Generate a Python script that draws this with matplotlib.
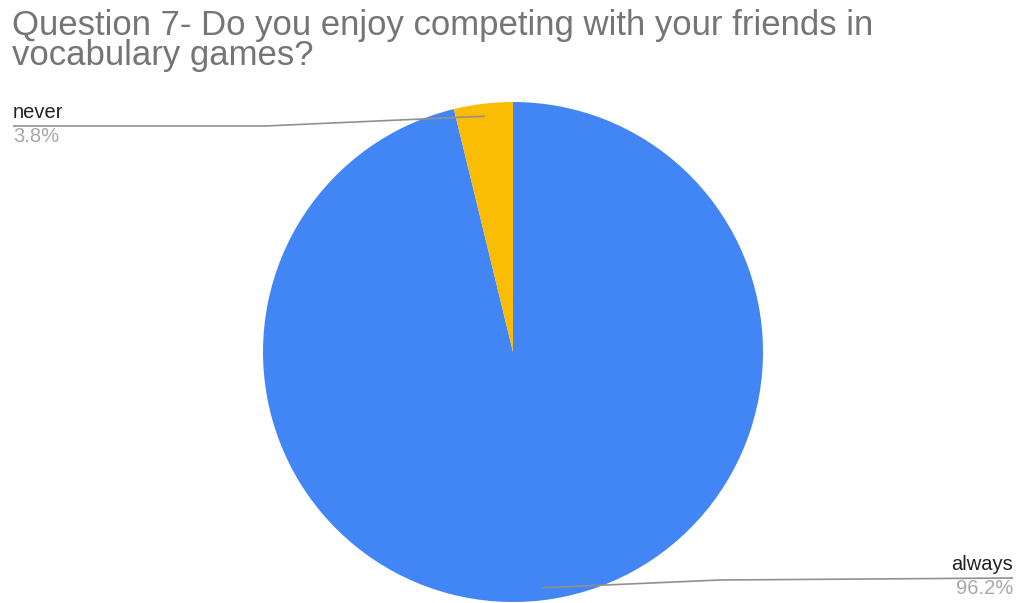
import numpy as np
import matplotlib.pyplot as plt

# survey answers for question 7
answers = ['always', 'never']
shares = [96.2, 3.8]
pct_labels = ['96.2%', '3.8%']
colors = ['#4285F4', '#FBBC04']

title = 'Question 7- Do you enjoy competing with your friends in\nvocabulary games?'

W, H = 1016, 603
plt.rcParams['font.family'] = ['Liberation Sans', 'DejaVu Sans']

fig = plt.figure(figsize=(W / 100, H / 100), dpi=100)
ax = fig.add_axes([0, 0, 1, 1])

cx, cy, R = 513, H - 352, 250
wedges, _ = ax.pie(shares, colors=colors, startangle=90, counterclock=False,
                   center=(cx, cy), radius=R, frame=True,
                   wedgeprops=dict(linewidth=0))
ax.set_xlim(0, W)
ax.set_ylim(0, H)
ax.set_aspect('equal')
ax.axis('off')

# leader lines start inside each wedge, at its middle angle
line_col = '#909090'
for w, name, pct in zip(wedges, answers, pct_labels):
    mid = np.deg2rad((w.theta1 + w.theta2) / 2)
    px = cx + 0.95 * R * np.cos(mid)
    py = cy + 0.95 * R * np.sin(mid)
    if px < cx:
        xs = [px, 265, 13]
        ys = [py, H - 126, H - 126]
        tx, ha, ly = 13, 'left', H - 126
    else:
        xs = [px, 720, 1013]
        ys = [py, H - 580, H - 578]
        tx, ha, ly = 1013, 'right', H - 578
    ax.plot(xs, ys, color=line_col, lw=1.2, solid_capstyle='butt')
    ax.text(tx, ly + 8, name, ha=ha, va='baseline', fontsize=14.5, color='#222222')
    ax.text(tx, ly - 16, pct, ha=ha, va='baseline', fontsize=14.5, color='#a8a8a8')

fig.text(12 / W, 1 - 9 / H, title, ha='left', va='top', fontsize=25,
         color='#757575', linespacing=0.9)

fig.savefig('out.png', dpi=100, facecolor='white')
